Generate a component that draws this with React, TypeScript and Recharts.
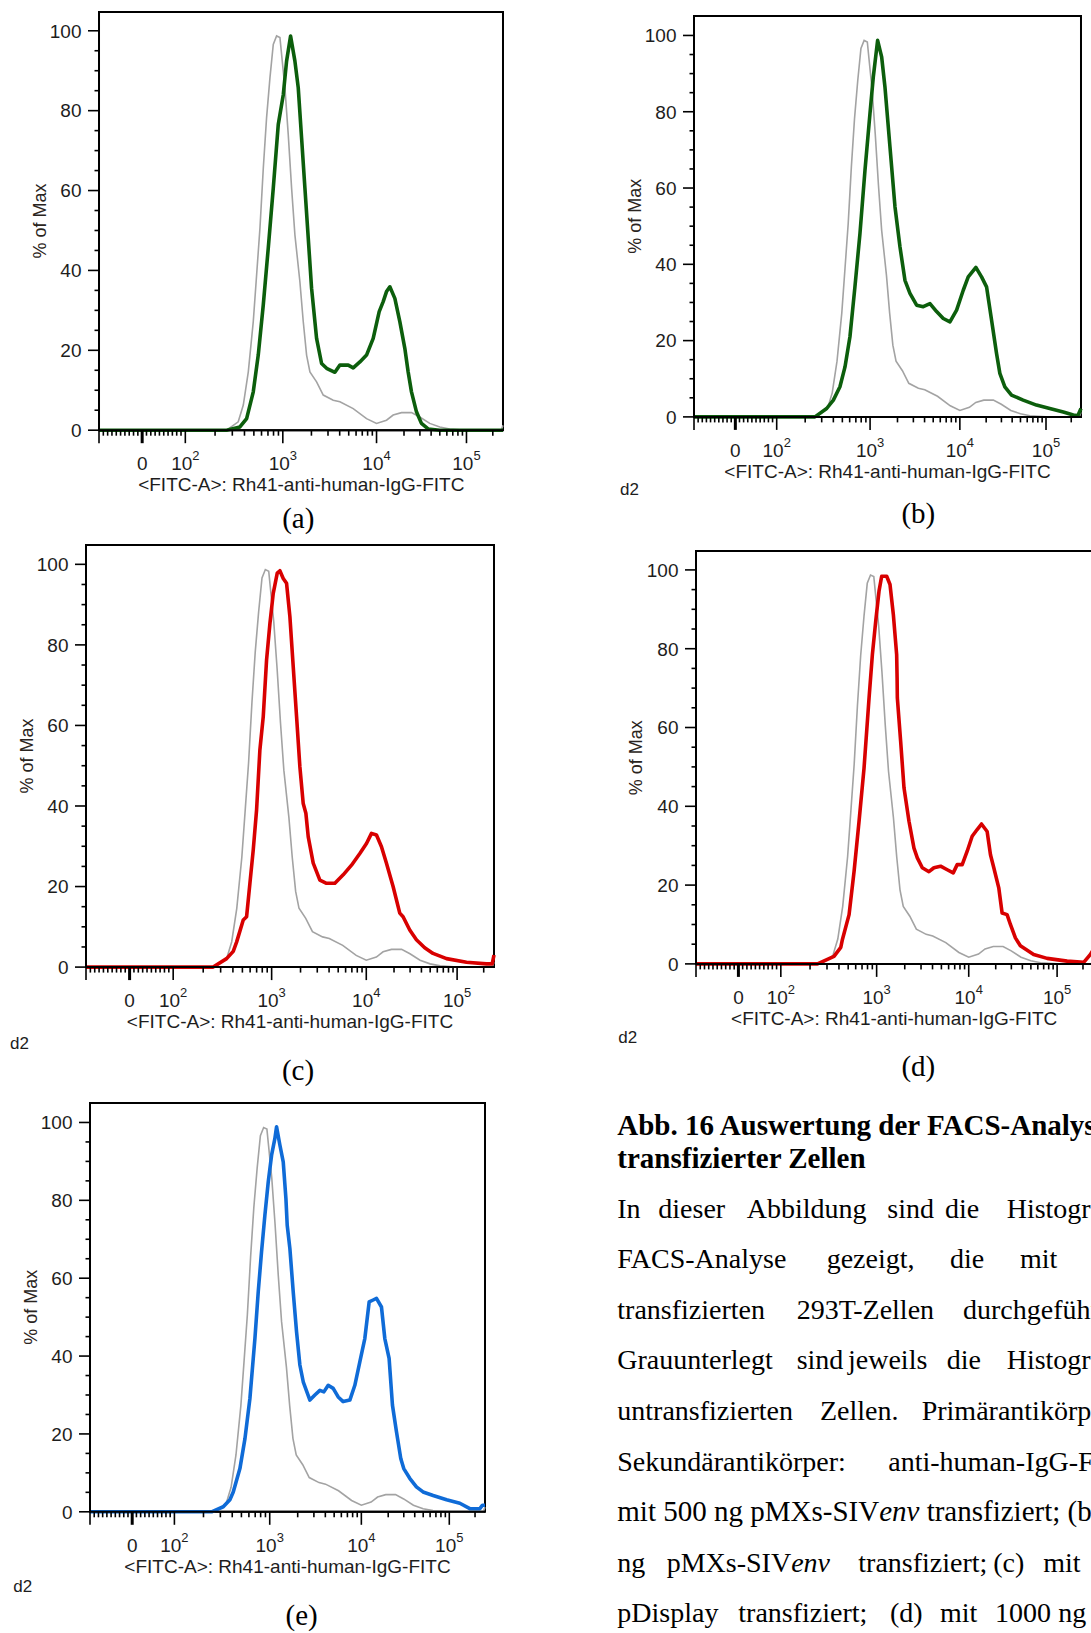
import React from 'react';
import { LineChart, Line, XAxis, YAxis, ReferenceArea } from 'recharts';

// [FITC-A intensity, % of Max] pairs
const controlHist: [number, number][] = [
  [-100, 0], [262, 0], [345, 2.1], [389, 6.3], [438, 14.6], [493, 27.2], [534, 38.9], [578, 50.6],
  [626, 65.6], [677, 78.2], [734, 88.2], [795, 96.6], [861, 98.7], [933, 98.3], [971, 94.1],
  [1052, 85.7], [1140, 74.0], [1236, 60.6], [1339, 48.9], [1512, 37.1], [1639, 27.2], [1778, 18.8],
  [1928, 14.6], [2268, 12.1], [2669, 8.8], [3412, 7.5], [4021, 7.1], [5589, 5.4], [7787, 2.9],
  [10000, 1.7], [12850, 2.5], [15200, 3.8], [18770, 4.4], [24190, 4.4], [29900, 3.3], [38620, 1.7],
  [49950, 0.8], [64600, 0.3], [100000, 0], [250000, 0], [262144, 1.2],
];

const env500Hist: [number, number][] = [
  [-100, 0], [262, 0], [359, 0.8], [421, 2.9], [493, 9.6], [555, 18.8], [626, 31.4], [705, 45.6],
  [795, 60.6], [896, 76.5], [1011, 84.0], [1095, 92.4], [1206, 98.7], [1339, 92.4], [1452, 85.7],
  [1574, 73.2], [1707, 60.6], [1851, 48.1], [2008, 35.5], [2268, 23.0], [2563, 16.7], [2897, 15.5],
  [3555, 14.5], [4021, 16.3], [4939, 16.3], [5589, 15.6], [6597, 17.1], [7787, 18.8], [9199, 23.0],
  [10690, 29.7], [11820, 32.2], [12850, 34.7], [13980, 35.9], [15860, 33.0], [17990, 27.2],
  [20420, 20.5], [22220, 14.6], [24190, 9.6], [27470, 4.6], [31200, 1.7], [37010, 0.3], [49950, 0],
  [262144, 0],
];

const env1000Hist: [number, number][] = [
  [-100, 0], [254, 0], [339, 2.2], [400, 4.4], [471, 7.9], [534, 13.1], [604, 21.0], [684, 34.1],
  [776, 48.1], [880, 64.7], [997, 79.5], [1084, 89.1], [1209, 98.7], [1338, 94.4], [1455, 86.5],
  [1652, 70.8], [1876, 55.1], [2130, 44.6], [2419, 35.8], [2749, 32.4], [3262, 29.3], [3870, 28.9],
  [4596, 29.7], [5459, 27.6], [6486, 25.8], [7716, 24.9], [9183, 28.0], [10930, 33.2], [12460, 36.7],
  [15240, 39.2], [17700, 36.7], [20200, 34.1], [23070, 25.4], [26350, 16.6], [28780, 11.4],
  [32880, 7.9], [39300, 5.7], [53760, 4.4], [77050, 3.1], [110700, 2.2], [160600, 1.3],
  [211800, 0.5], [240000, 0.3], [262144, 2.2],
];

const displayHistC: [number, number][] = [
  [-100, 0], [252, 0], [345, 2.1], [403, 3.9], [436, 6.2], [510, 11.7], [552, 12.5], [597, 20.8],
  [646, 29.1], [699, 39.0], [756, 53.9], [819, 62.2], [886, 76.2], [960, 85.3], [1039, 92.8],
  [1143, 97.8], [1218, 98.4], [1319, 96.5], [1429, 95.3], [1548, 87.0], [1677, 74.6], [1818, 62.2],
  [1969, 49.7], [2134, 40.6], [2276, 38.2], [2408, 32.4], [2719, 25.8], [3196, 21.6], [3758, 20.8],
  [4608, 20.8], [5652, 22.9], [6936, 25.3], [8522, 28.2], [10050, 30.7], [11380, 33.2], [12890, 32.8],
  [14600, 29.9], [16540, 25.8], [19540, 20.0], [23110, 13.4], [25130, 12.5], [29740, 9.2],
  [35210, 6.8], [43480, 4.8], [53770, 3.4], [76000, 2.1], [127600, 1.2], [215200, 0.8],
  [250000, 0.8], [262144, 3.0],
];

const displayHistD: [number, number][] = [
  [-100, 0], [239, 0], [355, 1.9], [418, 4.2], [435, 6.2], [511, 12.5], [577, 23.5], [651, 36.2],
  [735, 49.7], [831, 67.5], [901, 78.5], [978, 87.0], [1060, 94.6], [1132, 98.4], [1280, 98.4],
  [1389, 96.3], [1508, 88.7], [1637, 78.5], [1655, 72.6], [1665, 67.5], [1807, 56.5], [1963, 44.7],
  [2222, 36.2], [2515, 29.4], [2734, 26.9], [3096, 24.4], [3656, 23.4], [4145, 24.4], [4898, 24.8],
  [5794, 23.9], [6742, 23.1], [7459, 25.2], [8472, 25.2], [9617, 28.6], [10920, 32.4], [12410, 34.1],
  [13860, 35.5], [16030, 33.6], [17470, 27.7], [19030, 24.4], [21640, 19.3], [23590, 12.9],
  [26850, 12.5], [29270, 10.0], [33330, 6.6], [37950, 4.6], [53740, 2.4], [76800, 1.4],
  [130600, 0.7], [204000, 0.4], [244300, 2.4], [262144, 3.5],
];

const histE: [number, number][] = [
  [-100, 0], [243, 0], [322, 1.3], [378, 3.1], [410, 5.1], [482, 11.1], [545, 18.8], [615, 29.1],
  [695, 44.5], [754, 56.5], [818, 66.8], [888, 76.2], [964, 84.7], [1047, 91.6], [1136, 95.9],
  [1184, 98.9], [1285, 94.2], [1396, 89.9], [1492, 80.5], [1541, 73.6], [1647, 67.6], [1789, 56.5],
  [1944, 46.2], [2112, 37.7], [2296, 33.4], [2713, 28.7], [3074, 30.0], [3486, 31.2], [3855, 30.8],
  [4301, 32.5], [4878, 31.7], [5538, 29.5], [6286, 28.3], [7449, 28.7], [8464, 32.5], [9617, 38.5],
  [10930, 44.5], [12220, 53.9], [13540, 54.4], [14760, 54.8], [16790, 52.6], [18310, 44.5],
  [20470, 39.4], [22330, 27.4], [24770, 20.6], [27730, 13.7], [29990, 11.1], [35080, 8.6],
  [41790, 6.4], [49780, 5.1], [65060, 4.2], [92960, 3.1], [132700, 2.2], [173800, 0.8],
  [227800, 0.8], [245000, 1.7], [262144, 1.7],
];

// axis ticks
const xMajorTicks = [-100, 0, 100, 1000, 10000, 100000];
const xMinorTicks = [
  -90, -80, -70, -60, -50, -40, -30, -20, -10, 10, 20, 30, 40, 50, 60, 70, 80, 90,
  200, 300, 400, 500, 600, 700, 800, 900, 2000, 3000, 4000, 5000, 6000, 7000, 8000, 9000,
  20000, 30000, 40000, 50000, 60000, 70000, 80000, 90000, 200000,
];
const xTickLabels: Record<string, [string, string]> = {
  '0': ['0', ''], '100': ['10', '2'], '1000': ['10', '3'], '10000': ['10', '4'], '100000': ['10', '5'],
};
const yTicks = [0, 5, 10, 15, 20, 25, 30, 35, 40, 45, 50, 55, 60, 65, 70, 75, 80, 85, 90, 95, 100];
const yLabelTicks = [0, 20, 40, 60, 80, 100];

const SANS = '"Liberation Sans", Arial, sans-serif';
const SERIF = '"Liberation Serif", "Times New Roman", serif';
const INK = '#1d1d1d';
const GRAY = '#a3a3a3';
const GREEN = '#0c5e0c';
const RED = '#d80000';
const BLUE = '#0f6bd7';

// logicle-like display: linear around zero, slightly compressed log above 10^2
const Q = 0.019;
const axisPos = (v: number) => {
  if (v >= 100) {
    const L = Math.log10(v) - 2;
    return 2 + L - Q * L * L;
  }
  return 2 + ((v - 100) / 100) / Math.LN10;
};
const X_MIN = axisPos(-100);
const X_MAX = axisPos(262144);

const xTickList = [...xMajorTicks.map((v) => ({ v, major: true })), ...xMinorTicks.map((v) => ({ v, major: false }))]
  .map((t) => ({ ...t, pos: axisPos(t.v) }))
  .sort((a, b) => a.pos - b.pos);
const xTickPos = xTickList.map((t) => t.pos);

const toPoints = (h: [number, number][]) => h.map(([v, pct]) => ({ p: axisPos(v), y: pct }));

const XTick = (props: any) => {
  const { x, y, payload } = props;
  const t = xTickList.find((k) => Math.abs(k.pos - payload.value) < 1e-9);
  if (!t) return null;
  const lab = xTickLabels[String(t.v)];
  return (
    <g>
      <line x1={x} x2={x} y1={y} y2={y + (t.major ? 13 : 5.5)} stroke="#000" strokeWidth={t.v === 0 ? 3 : 1.6} />
      {lab && (
        <text x={x} y={y + 40} textAnchor="middle" fontSize={19} fontFamily={SANS} fill={INK}>
          {lab[0]}
          {lab[1] && <tspan dy={-10} fontSize={13}>{lab[1]}</tspan>}
        </text>
      )}
    </g>
  );
};

const YTick = (props: any) => {
  const { x, y, payload } = props;
  const major = yLabelTicks.includes(payload.value);
  return (
    <g>
      <line x1={x - (major ? 11 : 4.5)} x2={x} y1={y} y2={y} stroke="#000" strokeWidth={1.6} />
      {major && (
        <text x={x - 17.5} y={y} dy="0.36em" textAnchor="end" fontSize={19} fontFamily={SANS} fill={INK}>
          {payload.value}
        </text>
      )}
    </g>
  );
};

interface PanelSpec {
  id: string;
  left: number;
  top: number;
  width: number;
  height: number;
  yTop: number;
  hist: [number, number][];
  color: string;
  tag: string;
  tagX: number;
  tagY: number;
  d2?: [number, number];
}

const panels: PanelSpec[] = [
  { id: 'a', left: 99.3, top: 11.8, width: 404, height: 418.2, yTop: 104.7, hist: env500Hist, color: GREEN, tag: '(a)', tagX: 298.3, tagY: 527.6 },
  { id: 'b', left: 694, top: 15.9, width: 387, height: 400.9, yTop: 105.1, hist: env1000Hist, color: GREEN, tag: '(b)', tagX: 918.3, tagY: 522.6, d2: [620, 494.5] },
  { id: 'c', left: 86, top: 545, width: 408, height: 422.1, yTop: 104.8, hist: displayHistC, color: RED, tag: '(c)', tagX: 298, tagY: 1079.9, d2: [10, 1049] },
  { id: 'd', left: 695.7, top: 551.4, width: 397, height: 412.9, yTop: 104.8, hist: displayHistD, color: RED, tag: '(d)', tagX: 918.3, tagY: 1076.3, d2: [618.3, 1043] },
  { id: 'e', left: 90, top: 1102.9, width: 395, height: 408.8, yTop: 105, hist: histE, color: BLUE, tag: '(e)', tagX: 301.7, tagY: 1624.9, d2: [13.3, 1592] },
];

const Y_AXIS_W = 62;
const X_AXIS_H = 52;
const PAD = 4;

function Histogram({ panel }: { panel: PanelSpec }) {
  const { left, top, width, height, yTop } = panel;
  return (
    <div style={{ position: 'absolute', left: left - Y_AXIS_W, top: top - PAD }}>
      <LineChart
        width={Y_AXIS_W + width + PAD}
        height={PAD + height + X_AXIS_H}
        margin={{ top: PAD, right: PAD, bottom: 0, left: 0 }}
      >
        <ReferenceArea x1={X_MIN} x2={X_MAX} y1={0} y2={yTop} fill="none" stroke="#000" strokeWidth={2} ifOverflow="visible" />
        <XAxis
          type="number"
          dataKey="p"
          domain={[X_MIN, X_MAX]}
          ticks={xTickPos}
          interval={0}
          tickSize={0}
          tickMargin={0}
          tick={XTick}
          height={X_AXIS_H}
          axisLine={{ stroke: '#000', strokeWidth: 2 }}
        />
        <YAxis
          type="number"
          dataKey="y"
          domain={[0, yTop]}
          ticks={yTicks}
          interval={0}
          tickSize={0}
          tickMargin={0}
          tick={YTick}
          width={Y_AXIS_W}
          axisLine={{ stroke: '#000', strokeWidth: 2 }}
        />
        <Line data={toPoints(controlHist)} dataKey="y" type="linear" stroke={GRAY} strokeWidth={1.6} dot={false} isAnimationActive={false} />
        <Line data={toPoints(panel.hist)} dataKey="y" type="linear" stroke={panel.color} strokeWidth={3.6} strokeLinejoin="round" dot={false} isAnimationActive={false} />
      </LineChart>
    </div>
  );
}

// caption words placed as in the justified source layout
const captionLines: [string, number][][] = [
  [['In', 617.3], ['dieser', 658.3], ['Abbildung', 746.7], ['sind', 887.3], ['die', 945], ['Histogramme', 1006.7]],
  [['FACS-Analyse', 617.3], ['gezeigt,', 826.7], ['die', 950], ['mit', 1020]],
  [['transfizierten', 617.3], ['293T-Zellen', 796.7], ['durchgeführt', 963]],
  [['Grauunterlegt', 617.3], ['sind', 796.7], ['jeweils', 848], ['die', 946.7], ['Histogramme', 1006.7]],
  [['untransfizierten', 617.3], ['Zellen.', 820], ['Primärantikörper:', 921.7]],
  [['Sekundärantikörper:', 617.3], ['anti-human-IgG-FITC;', 888.3]],
  [],
  [['ng', 617.3], ['pMXs-SIV|env', 666.7], ['transfiziert;', 858.3], ['(c)', 993.3], ['mit', 1043.3]],
  [['pDisplay', 617.3], ['transfiziert;', 738.3], ['(d)', 890], ['mit', 940], ['1000', 995], ['ng', 1058.3]],
];

const renderWord = (w: string) => {
  const [plain, ital] = w.split('|');
  return (
    <>
      {plain}
      {ital && <tspan fontStyle="italic">{ital}</tspan>}
    </>
  );
};

export default function App() {
  return (
    <div style={{ position: 'absolute', left: 0, top: 0, width: 1091, height: 1633, overflow: 'hidden', background: '#fff' }}>
      {panels.map((p) => (
        <Histogram key={p.id} panel={p} />
      ))}
      <svg width={1091} height={1633} style={{ position: 'absolute', left: 0, top: 0, pointerEvents: 'none' }}>
        {panels.map((p) => (
          <g key={p.id} fill={INK}>
            <text
              transform={`translate(${p.left - 53.5}, ${p.top + p.height / 2}) rotate(-90)`}
              textAnchor="middle"
              fontSize={18}
              fontFamily={SANS}
              fill="#2a2420"
            >
              % of Max
            </text>
            <text x={p.left + p.width / 2} y={p.top + p.height + 61} textAnchor="middle" fontSize={19} fontFamily={SANS}>
              {'<FITC-A>: Rh41-anti-human-IgG-FITC'}
            </text>
            {p.d2 && (
              <text x={p.d2[0]} y={p.d2[1]} fontSize={17} fontFamily={SANS}>
                d2
              </text>
            )}
            <text x={p.tagX} y={p.tagY} textAnchor="middle" fontSize={29} fontFamily={SERIF} fill="#000">
              {p.tag}
            </text>
          </g>
        ))}
        <g fontFamily={SERIF} fill="#000">
          <text x={617.3} y={1134.7} fontSize={29} fontWeight="bold">Abb. 16 Auswertung der FACS-Analyse</text>
          <text x={617.3} y={1168.2} fontSize={29} fontWeight="bold">transfizierter Zellen</text>
          {captionLines.map((line, i) =>
            line.map(([w, x]) => (
              <text key={`${i}-${w}-${x}`} x={x} y={1217.5 + i * 50.6} fontSize={28}>
                {renderWord(w)}
              </text>
            ))
          )}
          <text x={617.3} y={1217.5 + 6 * 50.6} fontSize={29}>
            mit 500 ng pMXs-SIV<tspan fontStyle="italic">env</tspan> transfiziert; (b) mit
          </text>
        </g>
      </svg>
    </div>
  );
}
